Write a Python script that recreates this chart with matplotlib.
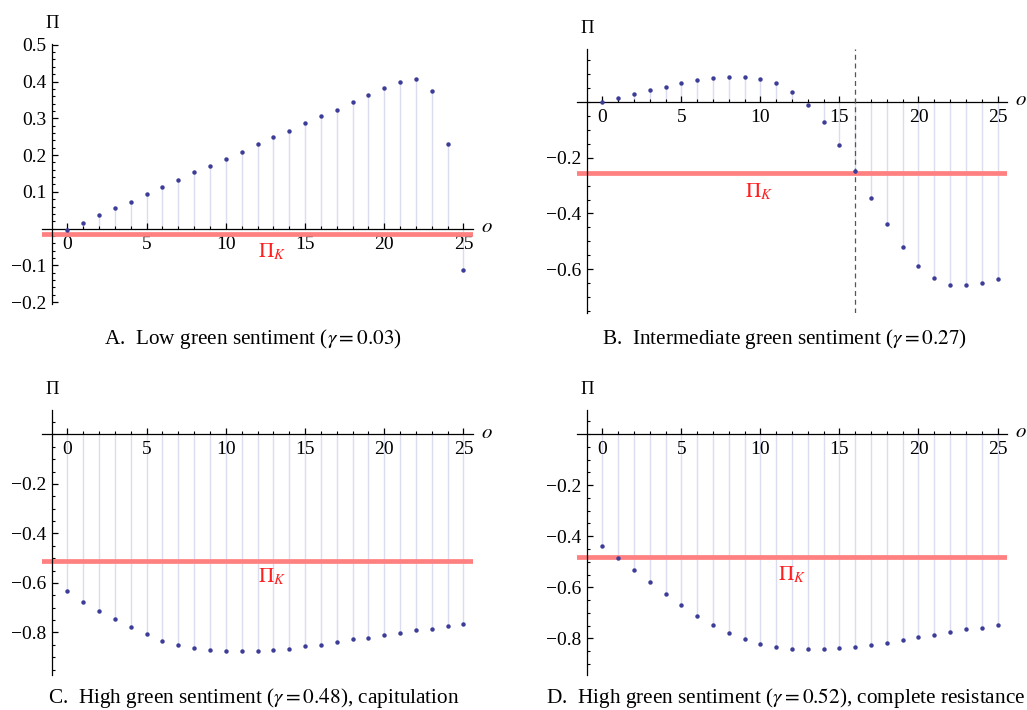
import matplotlib
matplotlib.use("Agg")
import matplotlib.pyplot as plt
import numpy as np
from matplotlib.ticker import FixedLocator, MultipleLocator

plt.rcParams['font.family'] = ['Liberation Serif', 'DejaVu Serif']
plt.rcParams['mathtext.fontset'] = 'stix'

o_vals = list(range(26))

pi_A = [-0.003, 0.015, 0.037, 0.055, 0.073, 0.095, 0.113, 0.132, 0.153, 0.171,
        0.189, 0.207, 0.229, 0.248, 0.266, 0.287, 0.305, 0.323, 0.345, 0.363,
        0.381, 0.400, 0.406, 0.375, 0.229, -0.112]
pi_B = [-0.001, 0.014, 0.029, 0.043, 0.053, 0.067, 0.078, 0.086, 0.091, 0.091,
        0.081, 0.067, 0.034, -0.011, -0.073, -0.154, -0.247, -0.343, -0.438, -0.520,
        -0.587, -0.630, -0.655, -0.655, -0.649, -0.635]
pi_C = [-0.632, -0.676, -0.714, -0.747, -0.780, -0.807, -0.834, -0.850, -0.861, -0.872,
        -0.877, -0.877, -0.877, -0.872, -0.866, -0.855, -0.850, -0.839, -0.828, -0.823,
        -0.812, -0.801, -0.791, -0.785, -0.774, -0.764]
pi_D = [-0.438, -0.486, -0.533, -0.580, -0.627, -0.669, -0.712, -0.749, -0.780, -0.801,
        -0.822, -0.833, -0.843, -0.843, -0.843, -0.838, -0.833, -0.827, -0.817, -0.806,
        -0.796, -0.786, -0.775, -0.765, -0.759, -0.749]

pik_A, pik_B, pik_C, pik_D = -0.015, -0.255, -0.512, -0.480
threshold_B = 16

captions = ["A.  Low green sentiment ($\\gamma = 0.03$)",
            "B.  Intermediate green sentiment ($\\gamma = 0.27$)",
            "C.  High green sentiment ($\\gamma = 0.48$), capitulation",
            "D.  High green sentiment ($\\gamma = 0.52$), complete resistance"]

x_major = [0, 5, 10, 15, 20, 25]
yt_A = [-0.2, -0.1, 0.1, 0.2, 0.3, 0.4, 0.5]
yt_B = [-0.6, -0.4, -0.2]
yt_C = [-0.8, -0.6, -0.4, -0.2]
yt_D = [-0.8, -0.6, -0.4, -0.2]

W, H = 1027, 710
fig = plt.figure(figsize=(W / 100, H / 100), dpi=100)

dot_col = '#3c3c99'
stem_col = '#dcdcf0'
red_line = '#ff8080'
red_txt = '#ff2020'


def make_ax(px_left, px_right, px_top, px_bot):
    return fig.add_axes([px_left / W, 1 - px_bot / H, (px_right - px_left) / W, (px_bot - px_top) / H])


def panel(ax, vals, pik, ylim, yt, yminor, pik_x, pik_off, fmt):
    ax.set_xlim(-1.6, 25.6)
    ax.set_ylim(*ylim)
    ax.patch.set_alpha(0)
    for s in ['top', 'right']:
        ax.spines[s].set_visible(False)
    ax.spines['left'].set_position(('data', -0.95))
    ax.spines['bottom'].set_position(('data', 0))
    for s in ['left', 'bottom']:
        ax.spines[s].set_linewidth(0.9)
    ax.vlines(o_vals, 0, vals, color=stem_col, lw=1.0, zorder=1)
    ax.axhline(pik, color=red_line, lw=3.4, zorder=2)
    ax.plot(o_vals, vals, 'o', ms=3.2, color=dot_col, mec='none', zorder=4)
    ax.xaxis.set_major_locator(FixedLocator(x_major))
    ax.xaxis.set_minor_locator(FixedLocator(o_vals))
    ax.set_xticklabels([str(v) for v in x_major])
    ax.yaxis.set_major_locator(FixedLocator(yt))
    ax.yaxis.set_minor_locator(MultipleLocator(yminor))
    ax.set_yticklabels([fmt(v).replace('-', '\u2212') for v in yt])
    ax.tick_params(which='major', direction='in', length=4.5, width=0.9, labelsize=14, pad=4)
    ax.tick_params(which='minor', direction='in', length=2.5, width=0.8)
    ax.tick_params(axis='x', which='major', pad=5)
    ax.annotate('$\\Pi_K$', xy=(pik_x, pik), xytext=(0, pik_off), textcoords='offset points',
                ha='center', va='center', color=red_txt, fontsize=15)
    ax.annotate('\u03a0', xy=(-0.95, 1), xycoords=('data', 'axes fraction'), xytext=(0, 15),
                textcoords='offset points', ha='center', va='center', fontsize=13.5)
    ax.annotate('$o$', xy=(1, 0), xycoords=('axes fraction', 'data'), xytext=(10, 1),
                textcoords='offset points', ha='center', va='center', fontsize=15)


axA = make_ax(42, 473, 44, 304)
panel(axA, pi_A, pik_A, (-0.205, 0.502), yt_A, 0.02, 12.9, -13, lambda v: f"{v:.1f}")

axB = make_ax(577, 1007, 49, 313)
panel(axB, pi_B, pik_B, (-0.757, 0.19), yt_B, 0.05, 9.93, -13.5, lambda v: f"{v:.1f}")
axB.axvline(threshold_B, color='#555555', lw=0.9, ls=(0, (4, 3)), zorder=3)

axC = make_ax(42, 473, 410, 675)
panel(axC, pi_C, pik_C, (-0.972, 0.099), yt_C, 0.05, 12.9, -11.5, lambda v: f"{v:.1f}")

axD = make_ax(577, 1007, 410, 675)
panel(axD, pi_D, pik_D, (-0.944, 0.095), yt_D, 0.05, 11.97, -13.5, lambda v: f"{v:.1f}")

cap_pos = [(253, 339), (785, 339), (254, 698), (786, 698)]
for (cx, cy), txt in zip(cap_pos, captions):
    fig.text(cx / W, 1 - cy / H, txt, ha='center', va='center', fontsize=15.3)

fig.savefig('out.png', dpi=100)
